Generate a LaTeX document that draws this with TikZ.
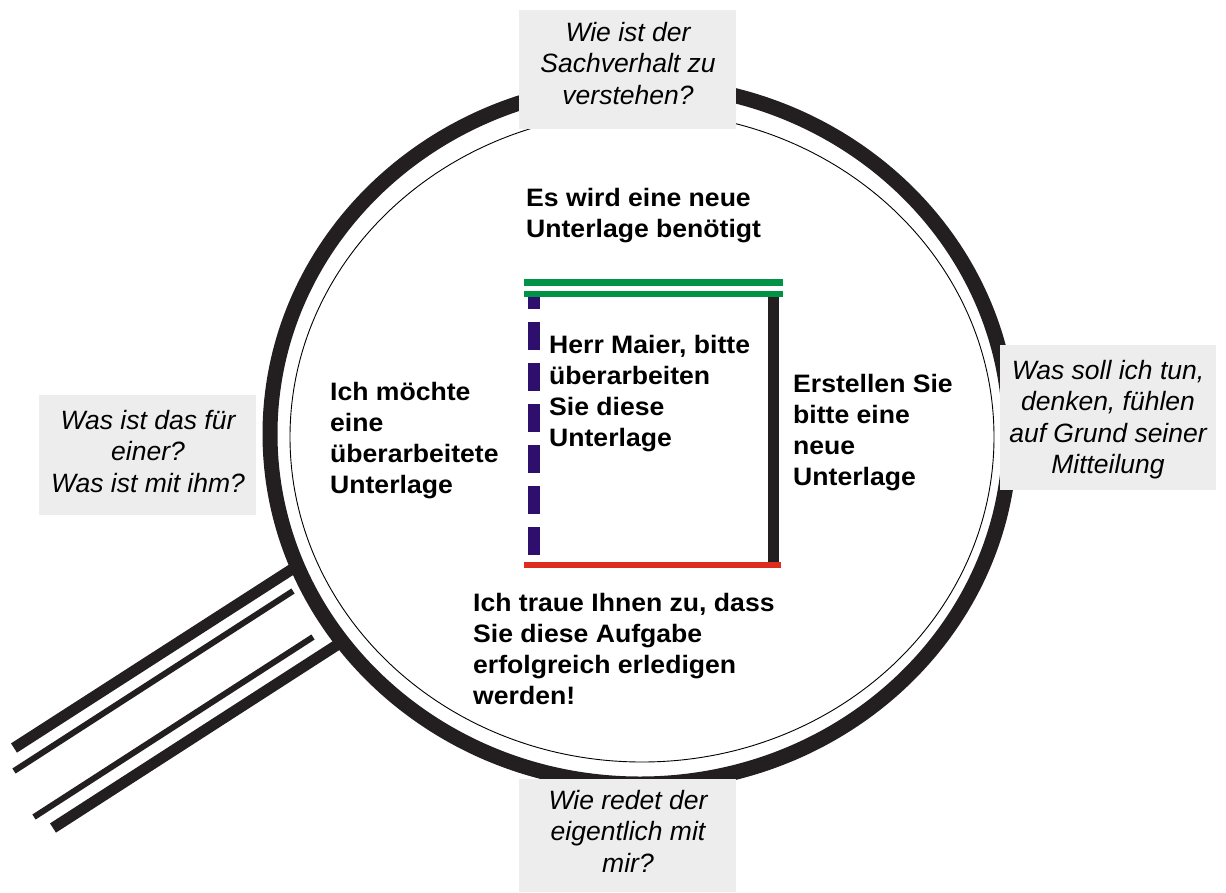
\documentclass[tikz,border=0pt]{standalone}
\usepackage{fontspec}
\setmainfont{Liberation Sans}
\newfontfamily\widesans[FakeStretch=1.055]{Liberation Sans}
\definecolor{ringblack}{RGB}{35,31,32}
\definecolor{lgreen}{RGB}{0,146,69}
\definecolor{lblue}{RGB}{46,15,110}
\definecolor{lred}{RGB}{220,45,30}
\definecolor{boxgray}{RGB}{237,237,237}
\begin{document}
\begin{tikzpicture}[x=1pt,y=-1pt,
  ring/.style={draw=ringblack,line width=15pt},
  thinring/.style={draw=black,line width=0.9pt},
  handlethick/.style={draw=ringblack,line width=11pt},
  handlethin/.style={draw=ringblack,line width=6pt},
  graybox/.style={fill=boxgray,draw=none,inner sep=0pt,anchor=north west},
  qtext/.style={font=\fontsize{26.5}{31.5}\selectfont\itshape,align=center,inner sep=0pt,anchor=north},
  mtext/.style={font=\widesans\fontsize{25.2}{31}\selectfont\bfseries,align=left,inner sep=0pt,anchor=north west}]
\useasboundingbox (0,0) rectangle (1226,892);

% handle
\coordinate (h1a) at (14,748);  \coordinate (h1b) at (297,566);
\coordinate (h2a) at (14,771);  \coordinate (h2b) at (293,591);
\coordinate (h3a) at (34,817);  \coordinate (h3b) at (313,637);
\coordinate (h4a) at (53,828);  \coordinate (h4b) at (337,645);
\draw[handlethick] (h1a) -- (h1b);
\draw[handlethin] (h2a) -- (h2b);
\draw[handlethin] (h3a) -- (h3b);
\draw[handlethick] (h4a) -- (h4b);

% lens rings
\coordinate (c1) at (640,434);
\coordinate (c2) at (642,437);
\draw[ring] (c1) ellipse [x radius=370, y radius=350];
\draw[thinring] (c2) ellipse [x radius=352, y radius=325];

% square
\coordinate (g1a) at (524,282.5); \coordinate (g1b) at (783,282.5);
\coordinate (g2a) at (524,294);   \coordinate (g2b) at (783,294);
\coordinate (bla) at (534,555);   \coordinate (blb) at (534,297);
\coordinate (bka) at (773.5,297); \coordinate (bkb) at (773.5,562);
\coordinate (rda) at (524,565);   \coordinate (rdb) at (781,565);
\draw[draw=lgreen,line width=6.5pt] (g1a) -- (g1b);
\draw[draw=lgreen,line width=6pt] (g2a) -- (g2b);
\draw[draw=lblue,line width=12pt,dash pattern=on 28pt off 13pt] (bla) -- (blb);
\draw[draw=ringblack,line width=11pt] (bka) -- (bkb);
\draw[draw=lred,line width=6.5pt] (rda) -- (rdb);

% gray question boxes
\node[graybox,minimum width=217,minimum height=119] (qtop) at (519,10) {};
\node[graybox,minimum width=217,minimum height=113] (qbot) at (519,779) {};
\node[graybox,minimum width=217,minimum height=120] (qleft) at (39,395) {};
\node[graybox,minimum width=216,minimum height=145] (qright) at (1000,345) {};

\node[qtext] (ttop) at (628,22) {Wie ist der\\Sachverhalt zu\\verstehen?};
\node[qtext] (tbot) at (628,790) {Wie redet der\\eigentlich mit\\mir?};
\node[qtext] (tleft) at (148,410) {Was ist das für\\einer?\\Was ist mit ihm?};
\node[qtext] (tright) at (1108,360) {Was soll ich tun,\\denken, fühlen\\auf Grund seiner\\Mitteilung};

% bold statements
\node[mtext] (mtop) at (526,188) {Es wird eine neue\\Unterlage benötigt};
\node[mtext] (mmid) at (549,335) {Herr Maier, bitte\\überarbeiten\\Sie diese\\Unterlage};
\node[mtext] (mleft) at (330,382) {Ich möchte\\eine\\überarbeitete\\Unterlage};
\node[mtext] (mright) at (793,374) {Erstellen Sie\\bitte eine\\neue\\Unterlage};
\node[mtext] (mbot) at (473,593) {Ich traue Ihnen zu, dass\\Sie diese Aufgabe\\erfolgreich erledigen\\werden!};
\end{tikzpicture}
\end{document}
